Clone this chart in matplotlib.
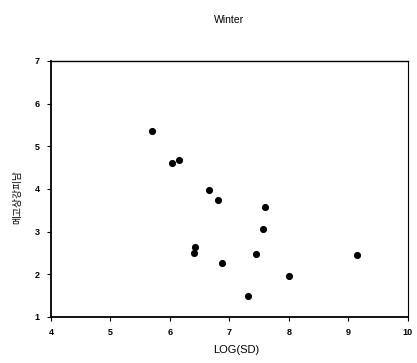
import matplotlib.pyplot as plt

plt.rcParams['font.family'] = ['Liberation Sans', 'Noto Sans CJK KR', 'DejaVu Sans']

# 값은 그림에서 읽은 근사치
log_sd = [5.70, 6.04, 6.15, 6.66, 6.81, 7.60, 7.56, 6.43, 6.40, 6.87, 7.45, 9.14, 8.01, 7.31]
y_vals = [5.36, 4.61, 4.67, 3.98, 3.73, 3.58, 3.07, 2.63, 2.49, 2.27, 2.47, 2.44, 1.97, 1.48]
x_ticks = [4, 5, 6, 7, 8, 9, 10]
y_ticks = [1, 2, 3, 4, 5, 6, 7]

fig = plt.figure(figsize=(4.17, 3.63), dpi=100)
ax = fig.add_axes([0.122, 0.127, 0.856, 0.705])

ax.scatter(log_sd, y_vals, s=17, color="black", zorder=3)

ax.set_xlim(4, 10)
ax.set_ylim(1, 7)
ax.set_xticks(x_ticks)
ax.set_yticks(y_ticks)
ax.tick_params(labelsize=6.5, length=3, width=0.8, pad=5)
for lab in ax.get_xticklabels() + ax.get_yticklabels():
    lab.set_fontweight("bold")

ax.spines["left"].set_linewidth(1.3)
ax.spines["bottom"].set_linewidth(1.3)
ax.spines["top"].set_linewidth(1.0)
ax.spines["right"].set_linewidth(0.8)

ax.set_xlabel("LOG(SD)", fontsize=8, labelpad=8)
ax.xaxis.set_label_coords(0.52, -0.11)
ax.set_ylabel("메고상강피남", fontsize=7)
ax.yaxis.set_label_coords(-0.08, 0.47)
fig.text(0.55, 0.945, "Winter", fontsize=7.5, ha="center", va="center")

fig.savefig("out.png", dpi=100)
